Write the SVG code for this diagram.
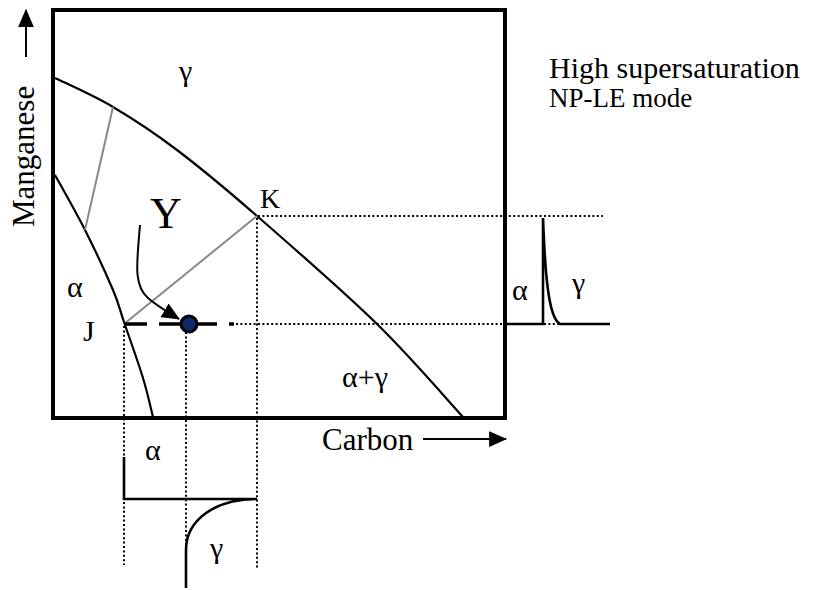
<svg xmlns="http://www.w3.org/2000/svg" width="818" height="590" viewBox="0 0 818 590">
<style>
text{font-family:"Liberation Serif","Times New Roman",serif;fill:#000}
.curve{fill:none;stroke:#000;stroke-width:2.2;stroke-linejoin:round}
.tie{fill:none;stroke:#888;stroke-width:2}
.dot{fill:none;stroke:#000;stroke-width:2;stroke-dasharray:2 2.4}
.prof{fill:none;stroke:#000;stroke-width:2.6}
</style>
<defs>
<marker id="ah" viewBox="0 0 16 14" refX="15" refY="7" markerWidth="9" markerHeight="7.9" orient="auto" markerUnits="strokeWidth">
<path d="M0,0 L16,7 L0,14 z" fill="#000"/>
</marker>
</defs>
<rect width="818" height="590" fill="#fff"/>
<g id="frame">
<rect x="53" y="10" width="452" height="408" fill="none" stroke="#000" stroke-width="4"/>
</g>
<g id="connectors">
<path class="curve" d="M55,78 C64.7,82.8 92.7,95 113,107 C133.3,119 153,131.8 177,150 C201,168.2 223.7,187 257,216 C290.3,245 342.7,290.5 377,324 C411.3,357.5 448.7,401.5 463,417"/>
<path class="curve" d="M55,175 C60,184.2 75.3,210.8 85,230 C94.7,249.2 106.5,274.7 113,290 C119.5,305.3 119,307.3 124,322 C129,336.7 138.2,362.2 143,378 C147.8,393.8 151.3,410.5 153,417"/>
<line class="tie" x1="113" y1="107" x2="85" y2="230"/>
<line class="tie" x1="257" y1="216" x2="124" y2="324"/>
<line class="dot" x1="258" y1="216" x2="603" y2="216"/>
<line class="dot" x1="236" y1="324" x2="560" y2="324"/>
<line class="dot" x1="124" y1="326" x2="124" y2="565"/>
<line class="dot" x1="186" y1="332" x2="186" y2="550"/>
<line class="dot" x1="257" y1="218" x2="257" y2="570"/>
<line x1="124" y1="324" x2="234" y2="324" stroke="#000" stroke-width="3.4" stroke-dasharray="23 12"/>
<path d="M140,225 C137,262 133,285 148,298 C156,305 164,310 179,319" fill="none" stroke="#000" stroke-width="2" marker-end="url(#ah)"/>
<path class="prof" d="M507,324 L543,324 L543,218 C545,270 548,318 560,324 L610,324"/>
<path class="prof" d="M124,457 L124,499 L257,499 C215,499 186,520 186,550 L186,588"/>
<line x1="26" y1="57" x2="26" y2="10" stroke="#000" stroke-width="2" marker-end="url(#ah)"/>
<line x1="423" y1="439" x2="506" y2="439" stroke="#000" stroke-width="2" marker-end="url(#ah)"/>
</g>
<g id="point-Y">
<circle cx="189" cy="324" r="8" fill="#0d2a6b" stroke="#000" stroke-width="3"/>
</g>
<g id="labels">
<text x="179" y="81" font-size="30">γ</text>
<text x="260" y="208" font-size="28">K</text>
<text x="150" y="228" font-size="44">Y</text>
<text x="83" y="341" font-size="30">J</text>
<text x="67" y="297" font-size="30">α</text>
<text x="342" y="387" font-size="30">α+γ</text>
<text x="512" y="300" font-size="30">α</text>
<text x="572" y="293" font-size="30">γ</text>
<text x="145" y="460" font-size="30">α</text>
<text x="210" y="558" font-size="30">γ</text>
<text x="322" y="450" font-size="31">Carbon</text>
<text transform="translate(34,227) rotate(-90)" font-size="31">Manganese</text>
<text x="549" y="78" font-size="30">High supersaturation</text>
<text x="549" y="107" font-size="27">NP-LE mode</text>
</g>
</svg>
